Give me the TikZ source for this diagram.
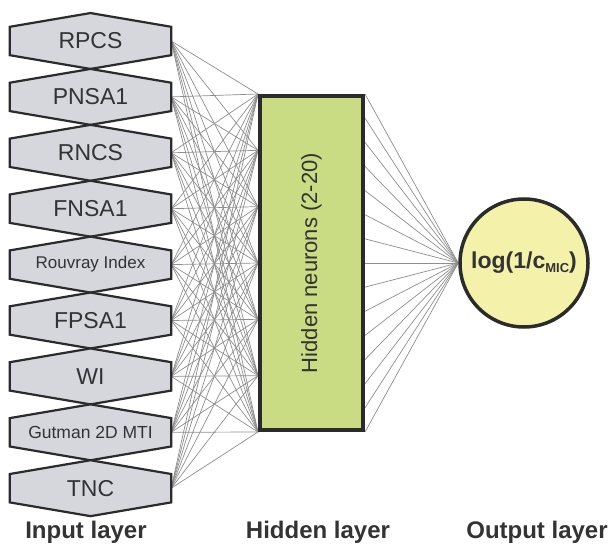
\documentclass[tikz,border=0pt]{standalone}
\usepackage{fontspec}
\setmainfont{Liberation Sans}
\usepackage{tikz}
\usetikzlibrary{positioning,calc,backgrounds}

\definecolor{hexfill}{HTML}{D5D7DD}
\definecolor{hidfill}{HTML}{C9DC83}
\definecolor{outfill}{HTML}{F3F1AA}
\definecolor{edgedark}{HTML}{2B2B2B}
\definecolor{linkgray}{HTML}{8E8E8E}
\definecolor{textdark}{HTML}{333333}

\begin{document}
\begin{tikzpicture}[
    x=1pt, y=1pt,
    inp/.style={rectangle, minimum width=161pt, minimum height=28pt, inner sep=0pt, text=textdark, font=\fontsize{23}{23}\selectfont},
    hexa/.style={fill=hexfill, draw=edgedark, line width=2.2pt, line join=miter},
    hidden/.style={rectangle, draw=edgedark, fill=hidfill, line width=4pt, minimum width=103pt, minimum height=334pt, inner sep=0pt, text=textdark, font=\fontsize{22}{22}\selectfont},
    outp/.style={circle, draw=edgedark, fill=outfill, line width=3.5pt, minimum size=128pt, inner sep=0pt, text=textdark, font=\fontsize{23}{23}\selectfont\bfseries},
    link/.style={draw=linkgray, line width=0.7pt},
    layer/.style={anchor=base, text=textdark, font=\fontsize{24}{24}\selectfont\bfseries}
]
    \useasboundingbox (0,0) rectangle (612,547);

    % input layer
    \node[inp] (in1) at (90.5,506) {RPCS};
    \node[inp, below=27.5pt of in1] (in2) {PNSA1};
    \node[inp, below=27.5pt of in2] (in3) {RNCS};
    \node[inp, below=27.5pt of in3] (in4) {FNSA1};
    \node[inp, below=27.5pt of in4, font=\fontsize{17}{17}\selectfont] (in5) {Rouvray Index};
    \node[inp, below=27.5pt of in5] (in6) {FPSA1};
    \node[inp, below=27.5pt of in6] (in7) {WI};
    \node[inp, below=27.5pt of in7, font=\fontsize{17.5}{17.5}\selectfont] (in8) {Gutman 2D MTI};
    \node[inp, below=27.5pt of in8] (in9) {TNC};

    % hidden and output layer
    \node[hidden] (hid) at (311.5,284) {\rotatebox{90}{Hidden neurons (2-20)}};
    \node[outp] (out) at (524,284) {log(1/c\raisebox{-0.3ex}{\fontsize{13}{13}\selectfont MIC})};

    \foreach \k in {1,...,7}
        \coordinate (hl\k) at ($(hid.north west)!{(\k-1)/6}!(hid.south west)$);
    \foreach \k in {1,...,15}
        \coordinate (hr\k) at ($(hid.north east)!{(\k-1)/14}!(hid.south east)$);

    \begin{scope}[on background layer]
        \foreach \i in {1,...,9}
            \foreach \k in {1,...,7}
                \draw[link] (in\i.east) -- (hl\k);
        \foreach \k in {1,...,15}
            \draw[link] (hr\k) -- (out.west);
        \foreach \i in {1,...,9}
            \filldraw[hexa] (in\i.north west) -- ([yshift=13.75pt]in\i.north) -- (in\i.north east)
                -- (in\i.south east) -- ([yshift=-13.75pt]in\i.south) -- (in\i.south west) -- cycle;
    \end{scope}

    % layer captions
    \node[layer] (capin) at (86,9) {Input layer};
    \node[layer] (caphid) at (318,9) {Hidden layer};
    \node[layer] (capout) at (537,9) {Output layer};
\end{tikzpicture}
\end{document}
